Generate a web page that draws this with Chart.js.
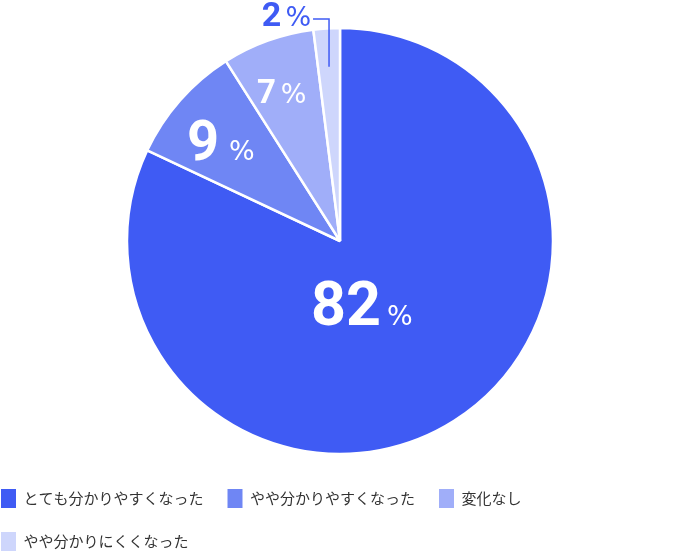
<!DOCTYPE html>
<html><head><meta charset="utf-8">
<script src="https://cdn.jsdelivr.net/npm/chart.js@4"></script>
<style>html,body{margin:0;padding:0;background:#fff;overflow:hidden}
#wrap{position:absolute;left:-23px;top:0;width:726px;height:552px}</style>
</head><body><div id="wrap"><canvas id="c" width="726" height="552"></canvas></div>
<script>
const categories = ['とても分かりやすくなった', 'やや分かりやすくなった', '変化なし', 'やや分かりにくくなった'];
const values = [82, 9, 7, 2];
const colors = ['#3f5bf4', '#6f86f4', '#a0aef9', '#ced6fc'];

const labelStyle = [
  {num: 61, pct: 27, color: '#ffffff', f: 0.35, dx: -18, dy: -1, gap: 6},
  {num: 56, pct: 27, color: '#ffffff', f: 0.74, dx: -1, dy: 3, gap: 10},
  {num: 33, pct: 27, color: '#ffffff', f: 0.78, dx: -2, dy: 7, gap: 5},
  {num: 34, pct: 27, color: '#3f5bf4', outside: true, gap: 4}
];

function drawLabel(ctx, text, st, cx, cy, alignRight) {
  const numFont = `700 ${st.num}px Roboto`;
  const pctFont = `400 ${st.pct}px 'DejaVu Sans'`;
  ctx.font = numFont;
  const wn = ctx.measureText(text).width;
  ctx.font = pctFont;
  const wp = ctx.measureText('%').width;
  const total = wn + st.gap + wp;
  const x0 = alignRight ? cx - total : cx - total / 2;
  const base = cy + st.num * 0.711 / 2;
  ctx.fillStyle = st.color;
  ctx.textBaseline = 'alphabetic';
  ctx.textAlign = 'left';
  ctx.font = numFont;
  ctx.fillText(text, x0, base);
  ctx.font = pctFont;
  ctx.fillText('%', x0 + wn + st.gap, base);
}

const labelPlugin = {
  id: 'sliceLabels',
  afterDatasetsDraw(chart) {
    const ctx = chart.ctx;
    const meta = chart.getDatasetMeta(0);
    ctx.save();
    meta.data.forEach((arc, i) => {
      const p = arc.getProps(['x', 'y', 'startAngle', 'endAngle', 'outerRadius'], true);
      const mid = (p.startAngle + p.endAngle) / 2;
      const st = labelStyle[i];
      const txt = String(values[i]);
      if (st.outside) {
        const ix = p.x + Math.cos(mid) * p.outerRadius * 0.82;
        const iy = p.y + Math.sin(mid) * p.outerRadius * 0.82;
        const topY = p.y - p.outerRadius - 9;
        ctx.strokeStyle = st.color;
        ctx.lineWidth = 1.5;
        ctx.beginPath();
        ctx.moveTo(ix, iy);
        ctx.lineTo(ix, topY);
        ctx.lineTo(ix - 16, topY);
        ctx.stroke();
        drawLabel(ctx, txt, st, ix - 18, topY - 5, true);
      } else {
        const cx = p.x + Math.cos(mid) * p.outerRadius * st.f + st.dx;
        const cy = p.y + Math.sin(mid) * p.outerRadius * st.f + st.dy;
        drawLabel(ctx, txt, st, cx, cy, false);
      }
    });
    ctx.restore();
  }
};

new Chart(document.getElementById('c'), {
  type: 'pie',
  data: {
    labels: categories,
    datasets: [{
      data: values,
      backgroundColor: colors,
      borderColor: '#ffffff',
      borderWidth: 2.5
    }]
  },
  options: {
    responsive: false,
    animation: false,
    devicePixelRatio: 1,
    radius: 213,
    layout: {padding: {left: 0, top: 17, bottom: -9}},
    plugins: {
      tooltip: {enabled: false},
      legend: {
        position: 'bottom',
        align: 'start',
        labels: {
          font: {family: "'Noto Sans CJK JP', 'Noto Sans', sans-serif", size: 15},
          color: '#333333',
          boxWidth: 15,
          boxHeight: 19,
          padding: 24,
          generateLabels(chart) {
            const items = Chart.overrides.pie.plugins.legend.labels.generateLabels(chart);
            items.forEach(it => { it.lineWidth = 0; it.strokeStyle = 'rgba(0,0,0,0)'; });
            return items;
          }
        }
      }
    }
  },
  plugins: [labelPlugin]
});
</script></body></html>
